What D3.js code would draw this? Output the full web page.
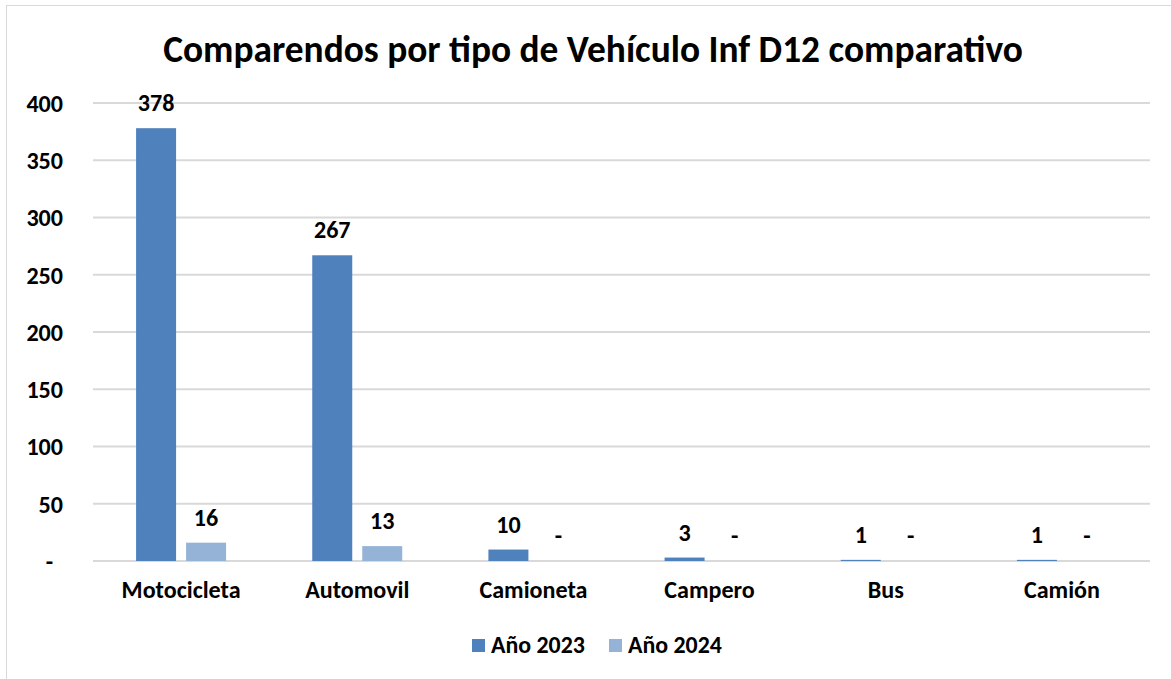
<!DOCTYPE html>
<html><head><meta charset="utf-8">
<script src="https://cdn.jsdelivr.net/npm/d3@7"></script>
<style>body{margin:0;background:#fff;} text{font-family:Carlito,Calibri,Lato,"Liberation Sans",sans-serif;font-weight:bold;fill:#000;}</style>
</head><body><svg id="c" width="1171" height="679"></svg>
<script>
const categories = ["Motocicleta","Automovil","Camioneta","Campero","Bus","Camión"];
const seriesNames = ["Año 2023","Año 2024"];
const values2023 = [378,267,10,3,1,1];
const values2024 = [16,13,0,0,0,0];
const yTicks = [0,50,100,150,200,250,300,350,400];
const colors = ["#4F81BD","#95B3D7"];
const title = "Comparendos por tipo de Vehículo Inf D12 comparativo";

const svg = d3.select("#c");
svg.append("rect").attr("x",6.5).attr("y",5.5).attr("width",1170).attr("height",680)
  .attr("fill","#fff").attr("stroke","#D9D9D9").attr("stroke-width",1);

const L=93,R=1150,T=103,B=561;
const x = d3.scaleBand().domain(categories).range([L,R]);
const xs = d3.scaleBand().domain(seriesNames).range([0,90]).paddingInner(0.2);
const y = d3.scaleLinear().domain([0,400]).range([B,T]);

function fitSize(str,fs,target){const tmp=svg.append("text").attr("font-size",fs).text(str);const w=tmp.node().getComputedTextLength();tmp.remove();return fs*target/w;}
const FS = fitSize("Motocicleta",19,119);

// gridlines
svg.append("g").selectAll("line").data(yTicks).join("line")
  .attr("x1",L).attr("x2",R).attr("y1",d=>y(d)).attr("y2",d=>y(d))
  .attr("stroke","#D9D9D9").attr("stroke-width",2);

// y axis
const ya = d3.axisLeft(y).tickValues(yTicks).tickSize(0).tickPadding(30)
  .tickFormat(d=>d===0?"-":d);
const yg = svg.append("g").attr("transform",`translate(${L},0)`).call(ya);
yg.select(".domain").remove();
yg.selectAll("text").attr("font-size",FS).attr("font-weight","bold").attr("fill","#000")
  .style("font-family","Carlito,Calibri,Lato,sans-serif").attr("dy","0.35em")
  .attr("dx",d=>d===0?-10:0);

// x axis
const xa = d3.axisBottom(x).tickSize(0).tickPadding(0);
const xg = svg.append("g").attr("transform",`translate(0,${B})`).call(xa);
xg.select(".domain").remove();
xg.selectAll("text").attr("font-size",FS).attr("font-weight","bold").attr("fill","#000")
  .style("font-family","Carlito,Calibri,Lato,sans-serif").attr("y",37).attr("dy",0);

const data = [];
categories.forEach((c,i)=>{data.push({c,s:seriesNames[0],v:values2023[i],col:colors[0]});data.push({c,s:seriesNames[1],v:values2024[i],col:colors[1]});});
const off = (x.bandwidth()-90)/2;
svg.append("g").selectAll("rect").data(data).join("rect")
  .attr("x",d=>x(d.c)+off+xs(d.s)).attr("width",xs.bandwidth())
  .attr("y",d=>y(d.v)).attr("height",d=>B-y(d.v)).attr("fill",d=>d.col);

svg.append("g").selectAll("text").data(data).join("text")
  .attr("x",d=>x(d.c)+off+xs(d.s)+xs.bandwidth()/2).attr("y",d=>y(d.v)-17)
  .attr("text-anchor","middle").attr("font-size",FS)
  .text(d=>d.v===0?"-":d.v);

// title
const t = svg.append("text").attr("x",593).attr("y",62).attr("text-anchor","middle")
  .attr("font-size",fitSize(title,34,860)).text(title);

// legend
const lg = svg.append("g");
const legX=[472,609];
seriesNames.forEach((s,i)=>{
  lg.append("rect").attr("x",legX[i]).attr("y",639).attr("width",13).attr("height",13).attr("fill",colors[i]);
  lg.append("text").attr("x",legX[i]+19).attr("y",653).attr("font-size",fitSize(s,19,94)).text(s);
});
</script></body></html>
